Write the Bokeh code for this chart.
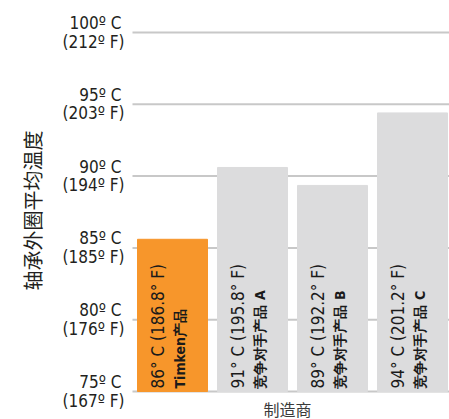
import math
from bokeh.plotting import figure
from bokeh.models import ColumnDataSource, Range1d
from bokeh.core.properties import value
from bokeh.embed import file_html
from bokeh.resources import INLINE

# data
categories = ["Timken产品", "竞争对手产品 A", "竞争对手产品 B", "竞争对手产品 C"]
bar_heights_c = [85.6, 90.6, 89.35, 94.4]   # bar heights as drawn in the reference
value_labels = ["86° C (186.8° F)", "91° C (195.8° F)", "89° C (192.2° F)", "94° C (201.2° F)"]
bar_colors = ["#f7962b", "#dcdcdd", "#dcdcdd", "#dcdcdd"]
tick_values = [75, 80, 85, 90, 95, 100]
tick_labels_c = ["75º C", "80º C", "85º C", "90º C", "95º C", "100º C"]
tick_labels_f = ["(167º F)", "(176º F)", "(185º F)", "(194º F)", "(203º F)", "(212º F)"]
y_title = "轴承外圈平均温度"
x_title = "制造商"

NARROW = "DejaVu Sans Condensed"
CJK = "Noto Sans CJK SC"
W, H = 449, 419
PX_PER_C = 14.36   # vertical scale
PX_PER_X = 80.0    # horizontal scale
LEFT_PX, BASE_PX = 132, 391     # where the plotting area starts / the 75 °C line
X0 = -0.5
XMIN = X0 - LEFT_PX / PX_PER_X
X1 = X0 + (W - LEFT_PX) / PX_PER_X
YMIN = 75 - (H - BASE_PX) / PX_PER_C
YMAX = 75 + BASE_PX / PX_PER_C

xs = list(range(len(categories)))
src = ColumnDataSource(dict(x=xs, top=bar_heights_c, color=bar_colors,
                            lab=value_labels, cat=categories))

p = figure(width=W, height=H, output_backend="svg", toolbar_location=None,
           x_range=Range1d(XMIN, X1), y_range=Range1d(YMIN, YMAX),
           min_border_left=0, min_border_right=0, min_border_top=0,
           min_border_bottom=0)
p.outline_line_color = None
p.xaxis.visible = False
p.yaxis.visible = False
p.grid.visible = False

# horizontal grid lines (start at the plotting area)
p.segment(x0=X0, x1=X1 + 1, y0=tick_values, y1=tick_values,
          line_color="#c8c8c8", line_width=2)

p.vbar(x="x", top="top", bottom=75, width=0.875, color="color", source=src)

p.text(x="x", y=75, text="lab", source=src, angle=math.pi / 2,
       x_offset=-15, y_offset=-3, text_align="left", text_baseline="middle",
       text_font=value(NARROW), text_font_size="17px", text_color="#1a1a1a")
p.text(x="x", y=75, text="cat", source=src, angle=math.pi / 2,
       x_offset=7, y_offset=-3, text_align="left", text_baseline="middle",
       text_font=value(NARROW), text_font_size="14px", text_font_style="bold",
       text_color="#1a1a1a")

# tick labels (two lines each)
yc = [v + 9.5 / PX_PER_C for v in tick_values]
yf = [v - 9 / PX_PER_C for v in tick_values]
p.text(x=[X0 - 11 / PX_PER_X] * len(tick_values), y=yc, text=tick_labels_c,
       text_align="right", text_baseline="middle",
       text_font=value(NARROW), text_font_size="17px", text_color="#231f20")
p.text(x=[X0 - 8 / PX_PER_X] * len(tick_values), y=yf, text=tick_labels_f,
       text_align="right", text_baseline="middle",
       text_font=value(NARROW), text_font_size="17px", text_color="#231f20")

# axis titles
p.text(x=[X0 - 100 / PX_PER_X], y=[87.6], text=[y_title], angle=math.pi / 2,
       text_align="center", text_baseline="middle",
       text_font=value(CJK), text_font_size="20px", text_color="#231f20")
p.text(x=[X0 + 155 / PX_PER_X], y=[75 - 17 / PX_PER_C], text=[x_title],
       text_align="center", text_baseline="middle",
       text_font=value(CJK), text_font_size="16px", text_color="#3a3a3a")

open("out.html", "w").write(file_html(p, INLINE))
